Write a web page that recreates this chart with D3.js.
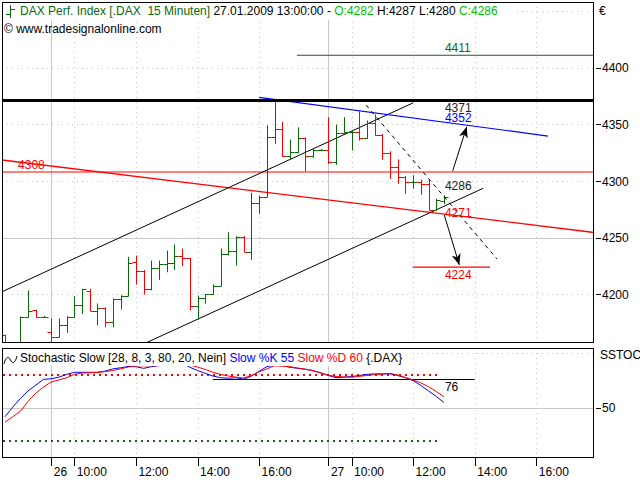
<!DOCTYPE html>
<html><head><meta charset="utf-8">
<script src="https://cdn.jsdelivr.net/npm/d3@7"></script>
<style>
body{margin:0;background:#fff}
svg{display:block}
text{font-family:"Liberation Sans",Arial,sans-serif;font-size:12px;white-space:pre}
</style>
</head><body>
<svg id="chart" width="640" height="480"></svg>
<script>
// ---------- DATA ----------
const openVals = [4164,4153,4150,4180,4186,4180,4166.5,4162.6,4173,4180.3,4190.6,4203.2,4185.6,4187.7,4175.3,4195.9,4198.8,4228.8,4220.9,4205,4223,4226.5,4227.4,4233.9,4231.8,4189.7,4196.5,4200,4207.6,4235.4,4238.3,4250.9,4237.7,4280.9,4286.2,4339.1,4345.6,4322.1,4325.3,4337.7,4322.1,4327.4,4327.4,4316.5,4342.1,4343,4343.5,4337.7,4350.9,4340.6,4324.5,4312.6,4303.8,4298.9,4299.5,4297.1,4274.4,4282];
const highVals = [4164,4156,4180,4203,4186,4180.5,4178.3,4178.3,4180.3,4197.9,4204.4,4204.4,4191.5,4188,4195.9,4198.8,4232.7,4233.8,4221,4229.4,4229.4,4238.3,4243.6,4239.8,4232,4198.5,4200,4208.3,4240,4254.4,4250.9,4251,4289.2,4286.8,4348.8,4371.5,4351.8,4336.2,4347,4338,4328,4328,4355.9,4349.4,4355.9,4344.1,4361.2,4353,4358.3,4341,4325.9,4318.6,4304,4304.7,4300.9,4300.9,4283.9,4287];
const lowVals = [4150,4144,4148,4180,4180,4179.5,4150,4162.6,4166.5,4180.3,4183,4185.6,4173,4171.5,4171.5,4187,4198.8,4209.1,4200.3,4204,4213.3,4220,4222.1,4225.3,4186.2,4178,4192.1,4200,4207.6,4234.7,4225.9,4237.7,4230.9,4271.5,4286,4333.3,4322.1,4319.4,4325.3,4308.8,4321,4327,4315.6,4314.8,4342.1,4327.4,4336.2,4337.7,4340.6,4319.2,4302.4,4298,4289.2,4293.6,4288.3,4274.4,4274.4,4280];
const closeVals = [4153,4150,4180,4185.6,4180,4180.2,4162.6,4173,4180.3,4190.6,4204.4,4185.6,4187.7,4175.3,4195.9,4198.8,4227.4,4220.9,4204.7,4223,4226.5,4227.4,4233.9,4231.8,4189.7,4196.5,4200,4207.6,4235.4,4238.3,4250.9,4237.7,4280.9,4286.2,4339.1,4345.6,4322.1,4325.3,4337.7,4322.1,4327.4,4327.6,4316.5,4342.1,4343,4343.5,4337.7,4350.9,4340.6,4324.5,4312.6,4303.8,4298.9,4299.5,4297.1,4274.4,4283,4286];
const slowK = [42,50.7,58.6,65.5,70.8,76,76.5,78,80.5,82.4,82.4,82.4,82.4,83.5,85.5,86.5,87.7,87.5,86,87.5,88.5,89.5,91,91,87,84,81.5,79,77.5,77,77.5,76.2,79,83.3,87.5,89,88.5,87,86,85.2,83.8,82,79.5,77.5,78,78.5,79.5,80.5,81,81,81,79.5,77.5,74.8,70.5,65.5,60.5,55];
const slowD = [37,42,47,56,63.5,69,73.6,75.5,77.4,80.5,81.7,82,82.3,83,84,85.5,87.2,88.2,88.3,88.4,88.5,89.5,90.7,91,89,87.2,85,82.5,80.5,79,78,77.2,79.5,82.8,85.5,88.3,88,87.5,86.3,85.2,84,81.8,79.7,78.6,78.2,77.9,78.7,79.5,80.3,80.8,81.4,80,77.6,75.5,72.8,69.3,65,60];

const priceTicks = [4200,4250,4300,4350,4400];
const priceGridDotted = [4200,4300,4350,4400,4450];
const priceGridSolid = [4250];
const stochTicks = [50];
const timeTickIndex = [6,9,17,25,33,42,45,53,61,69];
const timeTickLabels = ["26","10:00","12:00","14:00","16:00","27","10:00","12:00","14:00","16:00"];
const daySeparatorIndex = [6,42];

// annotation values (bar index, price)
const resistanceLevel = 4371;
const greenTarget = 4411;
const redLevel = 4308;
const downTarget = 4224;
const upperChannel = [[-0.39,4202.3],[53,4369]];
const lowerChannel = [[18.4,4157.5],[62.1,4293.6]];
const blueTrend = [[33,4373.9],[70.5,4339.7]];
const redTrend = [[-0.39,4318.6],[76.5,4254.6]];
const dashedTrend = [[46.9,4367],[63.9,4231.2]];
const upArrow = [[58.14,4309],[59.96,4347.9]];
const downArrow = [[57.05,4270],[59.0,4226]];
const labelValues = ["4411","4371","4352","4286","4271","4224"];
const stochLevels = [80,20];
const stochMarker = 76;

// ---------- SCALES ----------
const svg = d3.select("#chart");
const L = 2, R = 594, mainTop = 2, mainBot = 343, stTop = 348, stBot = 458;
const x = d3.scaleLinear().domain([-0.39, 76.49]).range([L, R]);
const y = d3.scaleLinear().domain([4157.1, 4458]).range([mainBot, mainTop]);
const ys = d3.scaleLinear().domain([4.5, 104.5]).range([stBot, stTop]);
const GREEN = "#0a6a0a", RED = "#ff0000", BLUE = "#0000ff", GRID = "#c8c8c8";
const last = closeVals.length - 1;
const cx = v => Math.round(v) + 0.5;

svg.append("rect").attr("width",640).attr("height",480).attr("fill","#fff");
const defs = svg.append("defs");
defs.append("clipPath").attr("id","clipMain").append("rect").attr("x",L).attr("y",mainTop).attr("width",R-L).attr("height",mainBot-mainTop);
defs.append("clipPath").attr("id","clipSt").append("rect").attr("x",L).attr("y",stTop).attr("width",R-L).attr("height",stBot-stTop);
defs.append("marker").attr("id","arr").attr("markerUnits","userSpaceOnUse")
  .attr("markerWidth",12).attr("markerHeight",10).attr("refX",11).attr("refY",4.5).attr("orient","auto")
  .append("path").attr("d","M0,0 L11,4.5 L0,9 L3,4.5 Z").attr("fill","#000");

// ---------- MAIN PANEL ----------
const gm = svg.append("g").attr("clip-path","url(#clipMain)");
gm.selectAll(".hgd").data(priceGridDotted).enter().append("line")
  .attr("x1",L).attr("x2",R).attr("y1",d=>cx(y(d))).attr("y2",d=>cx(y(d)))
  .attr("stroke",GRID).attr("stroke-dasharray","1,4");
gm.selectAll(".hgs").data(priceGridSolid).enter().append("line")
  .attr("x1",L).attr("x2",R).attr("y1",d=>cx(y(d))).attr("y2",d=>cx(y(d)))
  .attr("stroke",GRID);
function vgrid(g, top, bot){
  g.selectAll(null).data(timeTickIndex).enter().append("line")
    .attr("x1",d=>cx(x(d))).attr("x2",d=>cx(x(d))).attr("y1",top).attr("y2",bot)
    .attr("stroke",GRID)
    .attr("stroke-dasharray",d=>daySeparatorIndex.includes(d)?null:"1,4");
}
vgrid(gm, mainTop, mainBot);

// title background (covers grid)
svg.append("rect").attr("x",L+1).attr("y",mainTop+1).attr("width",510).attr("height",17).attr("fill","#fff");

// levels
function hline(g, v, x1, x2, color, w, dash){
  g.append("line").attr("x1",x1).attr("x2",x2).attr("y1",y(v)).attr("y2",y(v))
   .attr("stroke",color).attr("stroke-width",w).attr("stroke-dasharray",dash||null);
}
function seg(g, pts, color, w, dash, marker){
  const l = g.append("line").attr("x1",x(pts[0][0])).attr("y1",y(pts[0][1]))
    .attr("x2",x(pts[1][0])).attr("y2",y(pts[1][1]))
    .attr("stroke",color).attr("stroke-width",w).attr("stroke-dasharray",dash||null);
  if (marker) l.attr("marker-end","url(#arr)");
}
hline(gm, greenTarget, x(37.9), R, GREEN, 1);
hline(gm, redLevel, L, R, RED, 1);
seg(gm, redTrend, RED, 1.3);
seg(gm, upperChannel, "#000", 1);
seg(gm, lowerChannel, "#000", 1);
seg(gm, blueTrend, BLUE, 1.2);
hline(gm, downTarget, x(52.95), x(63), RED, 1.3);

// OHLC bars
const bars = gm.selectAll(".bar").data(closeVals.map((c,i)=>({i,o:openVals[i],h:highVals[i],l:lowVals[i],c}))).enter()
  .append("g").attr("stroke",d=>d.c>=d.o?GREEN:RED).attr("stroke-width",1);
bars.append("line").attr("x1",d=>cx(x(d.i))).attr("x2",d=>cx(x(d.i))).attr("y1",d=>y(d.h)-0.5).attr("y2",d=>y(d.l)+0.5);
bars.append("line").attr("x1",d=>cx(x(d.i))-4).attr("x2",d=>cx(x(d.i))).attr("y1",d=>cx(y(d.o))).attr("y2",d=>cx(y(d.o)));
bars.append("line").attr("x1",d=>cx(x(d.i))).attr("x2",d=>cx(x(d.i))+4).attr("y1",d=>cx(y(d.c))).attr("y2",d=>cx(y(d.c)));

hline(gm, resistanceLevel, L, R, "#000", 3);
seg(gm, dashedTrend, "#000", 1, "4,4");
seg(gm, upArrow, "#000", 1, null, true);
seg(gm, downArrow, "#000", 1, null, true);

// value labels near last bar
const lx = x(last) + 1;
const labelColors = [GREEN,"#222",BLUE,"#222",RED,RED];
const labelYs = [4411+3, 4371-10, 4352, 4292, 4271-3, downTarget-10];
gm.selectAll(".vl").data(labelValues).enter().append("text")
  .attr("x",lx).attr("y",(d,i)=>y(labelYs[i])).attr("fill",(d,i)=>labelColors[i]).text(d=>d);
gm.append("text").attr("x",x(1.7)).attr("y",y(redLevel)-3).attr("fill",RED).text(String(redLevel));

// frame
svg.append("rect").attr("x",L+0.5).attr("y",mainTop+0.5).attr("width",R-L-1).attr("height",mainBot-mainTop-1)
  .attr("fill","none").attr("stroke","#000");

// title
const t = svg.append("text").attr("x",20).attr("y",15);
t.append("tspan").attr("fill",GREEN).text("DAX Perf. Index [.DAX  15 Minuten] ");
t.append("tspan").attr("fill","#000").text("27.01.2009 13:00:00 - ");
t.append("tspan").attr("fill","#00c000").text("O:"+openVals[last]);
t.append("tspan").attr("fill","#000").text(" H:"+highVals[last]+" L:"+lowVals[last]+" ");
t.append("tspan").attr("fill","#00c000").text("C:"+closeVals[last]);
const ic = svg.append("g").attr("stroke",GREEN).attr("stroke-width",1);
ic.append("line").attr("x1",10.5).attr("x2",10.5).attr("y1",5).attr("y2",18);
ic.append("line").attr("x1",6).attr("x2",10.5).attr("y1",14.5).attr("y2",14.5);
ic.append("line").attr("x1",10.5).attr("x2",15).attr("y1",9.5).attr("y2",9.5);
svg.append("text").attr("x",4).attr("y",33).attr("fill","#000").text("\u00a9 www.tradesignalonline.com");

// right price axis
svg.append("text").attr("x",599).attr("y",15).text("\u20ac");
const ra = svg.append("g");
ra.selectAll("line").data(priceTicks).enter().append("line")
  .attr("x1",596).attr("x2",601).attr("y1",d=>cx(y(d))).attr("y2",d=>cx(y(d))).attr("stroke","#000");
ra.selectAll("text").data(priceTicks).enter().append("text")
  .attr("x",602).attr("y",d=>y(d)+4.5).text(d=>d);

// ---------- STOCHASTIC PANEL ----------
const gs = svg.append("g").attr("clip-path","url(#clipSt)");
gs.append("line").attr("x1",L).attr("x2",R).attr("y1",cx(ys(100))).attr("y2",cx(ys(100))).attr("stroke",GRID).attr("stroke-dasharray","1,4");
gs.selectAll(".sg").data(stochTicks).enter().append("line")
  .attr("x1",L).attr("x2",R).attr("y1",d=>cx(ys(d))).attr("y2",d=>cx(ys(d))).attr("stroke",GRID);
vgrid(gs, stTop, stBot);
svg.append("rect").attr("x",L+1).attr("y",stTop+1).attr("width",410).attr("height",17).attr("fill","#fff");
gs.selectAll(".sl").data(stochLevels).enter().append("line")
  .attr("x1",L+1).attr("x2",x(last-0.5)).attr("y1",d=>ys(d)).attr("y2",d=>ys(d))
  .attr("stroke",(d,i)=>i===0?RED:GREEN).attr("stroke-width",2).attr("stroke-dasharray","2,4");
gs.append("line").attr("x1",x(27)).attr("x2",x(61)).attr("y1",cx(ys(stochMarker))).attr("y2",cx(ys(stochMarker))).attr("stroke","#000");
const sline = vals => d3.line().x((d,i)=>x(i)).y(d=>ys(d))(vals);
gs.append("path").attr("d",sline(slowK)).attr("fill","none").attr("stroke",BLUE).attr("stroke-width",1);
gs.append("path").attr("d",sline(slowD)).attr("fill","none").attr("stroke",RED).attr("stroke-width",1);
gs.append("text").attr("x",lx).attr("y",ys(stochMarker)+12).attr("fill","#000").text(String(stochMarker));
svg.append("path").attr("d","M4,364 C6,356 9,356 10.5,360 C12,364 15,364 17,356").attr("fill","none").attr("stroke","#000");
const st = svg.append("text").attr("x",20).attr("y",362);
st.append("tspan").attr("fill","#000").text("Stochastic Slow [28, 8, 3, 80, 20, Nein] ");
st.append("tspan").attr("fill",BLUE).text("Slow %K "+slowK[last]+" ");
st.append("tspan").attr("fill",RED).text("Slow %D "+slowD[last]+" ");
st.append("tspan").attr("fill","#000").text("{.DAX}");
svg.append("rect").attr("x",L+0.5).attr("y",stTop+0.5).attr("width",R-L-1).attr("height",stBot-stTop-1)
  .attr("fill","none").attr("stroke","#000");
svg.append("text").attr("x",600).attr("y",359).text("SSTOCH");
svg.selectAll(".stt").data(stochTicks).enter().append("line")
  .attr("x1",596).attr("x2",601).attr("y1",d=>cx(ys(d))).attr("y2",d=>cx(ys(d))).attr("stroke","#000");
svg.selectAll(".stl").data(stochTicks).enter().append("text")
  .attr("x",602).attr("y",d=>ys(d)+4.5).text(d=>d);

// ---------- TIME AXIS ----------
const ta = svg.append("g");
ta.selectAll("line").data(timeTickIndex).enter().append("line")
  .attr("x1",d=>cx(x(d))).attr("x2",d=>cx(x(d))).attr("y1",stBot).attr("y2",466).attr("stroke","#000");
ta.selectAll("text").data(timeTickIndex).enter().append("text")
  .attr("x",d=>x(d)+2.5).attr("y",476).text((d,i)=>timeTickLabels[i]);
</script>
</body></html>
